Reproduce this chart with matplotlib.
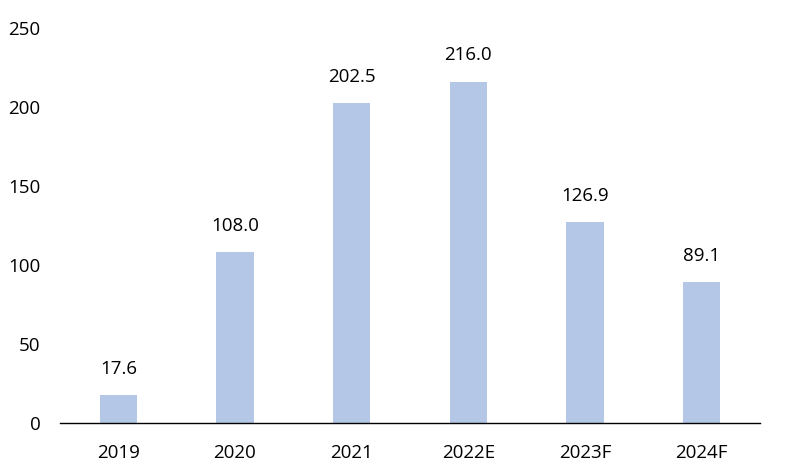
import matplotlib.pyplot as plt

plt.rcParams['font.family'] = ['Open Sans', 'DejaVu Sans']

years = ['2019', '2020', '2021', '2022E', '2023F', '2024F']
values = [17.6, 108.0, 202.5, 216.0, 126.9, 89.1]

fig = plt.figure(figsize=(7.99, 4.71), dpi=100)
ax = fig.add_axes([60 / 799, 48 / 471, 700 / 799, 395 / 471])

x = range(len(years))
ax.bar(x, values, width=0.32, color='#B4C7E7')
for i, v in enumerate(values):
    ax.text(i, v + 11, f'{v:.1f}', ha='center', va='bottom', fontsize=13.5)

ax.set_xlim(-0.5, len(years) - 0.5)
ax.set_ylim(0, 250)
ax.set_yticks(range(0, 251, 50))
ax.set_xticks(list(x))
ax.set_xticklabels(years)
ax.tick_params(axis='both', length=0, labelsize=13.5, colors='black')
ax.tick_params(axis='y', pad=14)
ax.tick_params(axis='x', pad=15)
for s in ['top', 'right', 'left']:
    ax.spines[s].set_visible(False)
ax.spines['bottom'].set_color('black')
ax.spines['bottom'].set_linewidth(1)

fig.savefig('out.png', dpi=100)
